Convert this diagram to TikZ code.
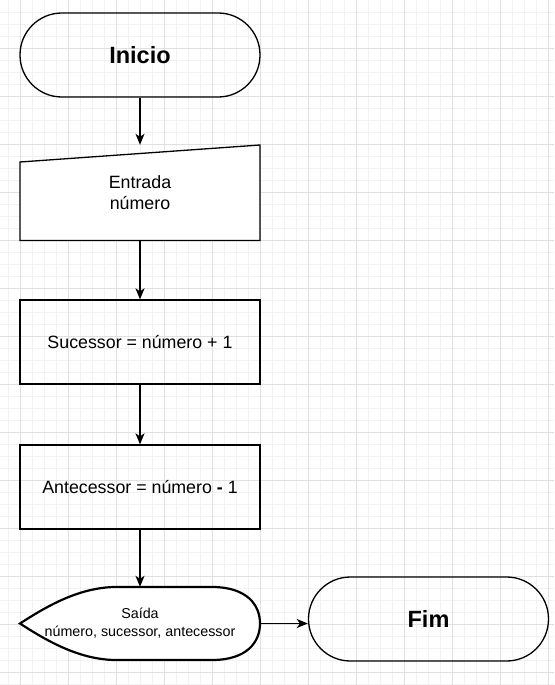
\documentclass[tikz,border=0pt]{standalone}
\usepackage{fontspec}
\setmainfont{Liberation Sans}
\usepackage{tikz}
\usetikzlibrary{arrows.meta}

\begin{document}
\begin{tikzpicture}[x=1pt, y=-1pt,
  minorgrid/.style={black!5, line width=.8pt},
  majorgrid/.style={black!12, line width=.9pt},
  terminal/.style={draw, line width=1.3pt, rounded corners=41.9pt, minimum width=240pt, minimum height=84pt, font=\fontsize{23.5}{27}\selectfont\bfseries},
  process/.style={draw, line width=1.3pt, minimum width=240pt, minimum height=84pt, font=\fontsize{17.8}{21}\selectfont},
  flow/.style={line width=1.3pt, -{Stealth[length=11pt, width=9pt, inset=3pt]}}]
%\draw[help lines] (0,0) grid (554,685);

 \useasboundingbox[fill=white] (0,0) rectangle (554,685);

 \foreach \i in {0,...,45} \draw[minorgrid] ({8+12*\i},0) -- ++(0,685);
 \foreach \j in {1,...,57} \draw[minorgrid] (0,{12*\j}) -- ++(554,0);
 \foreach \i in {0,...,11} \draw[majorgrid] ({20+48*\i},0) -- ++(0,685);
 \foreach \j in {1,...,14} \draw[majorgrid] (0,{48*\j}) -- ++(554,0);

 \node[terminal] (inicio) at (140,55) {Inicio};

 % entrada manual
 \draw[line width=1.3pt, fill=white] (20,162) -- (260,145) -- (260,240.5) -- (20,240.5) -- cycle;
 \node[minimum width=240pt, minimum height=95.5pt, align=center, font=\fontsize{17.8}{21}\selectfont] (entrada) at (140,192.75) {Entrada\\ número};

 \node[process] (sucessor) at (140,342) {Sucessor = número + 1};
 \node[process] (antecessor) at (140,487) {Antecessor = número \textbf{-} 1};

 % saida (display)
 \draw[line width=2.2pt, fill=white] (20,623.5) .. controls (50,604) and (80,588) .. (114,587)
   -- (212,587) .. controls (247,587) and (260,605) .. (260,623.5)
   .. controls (260,642) and (247,660) .. (212,660) -- (114,660)
   .. controls (80,659) and (50,643) .. cycle;
 \node[minimum width=240pt, minimum height=73pt, align=center, font=\fontsize{14.3}{18}\selectfont] (saida) at (140,623.5) {Saída\\ número, sucessor, antecessor};

 \node[terminal] (fim) at (428.5,619) {Fim};

 \draw[flow] (inicio) -- (entrada);
 \draw[flow] (entrada) -- (sucessor);
 \draw[flow] (sucessor) -- (antecessor);
 \draw[flow] (antecessor) -- (saida);
 \draw[flow] (saida.east) -- (saida.east -| fim.west);

\end{tikzpicture}
\end{document}
